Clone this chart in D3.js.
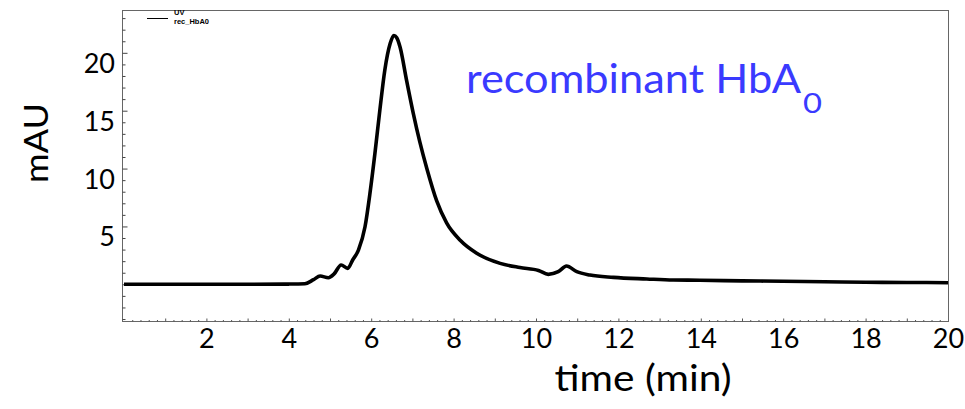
<!DOCTYPE html>
<html><head><meta charset="utf-8">
<script src="https://cdn.jsdelivr.net/npm/d3@7/dist/d3.min.js"></script>
<style>html,body{margin:0;padding:0;background:#fff;}svg{display:block;}</style>
</head><body><svg id="c" width="965" height="409"></svg>
<script>
// time (min)
const times = [0, 1, 2, 3, 4, 4.39, 4.6, 4.76, 4.96, 5.1, 5.27, 5.43, 5.55, 5.69, 5.85, 5.97, 6.09, 6.21, 6.33, 6.46, 6.55, 6.62, 6.70, 6.86, 7.02, 7.18, 7.35, 7.59, 7.83, 8.16, 8.56, 9.13, 9.61, 10.06, 10.30, 10.54, 10.74, 10.99, 11.31, 11.88, 12.69, 13.33, 13.98, 15, 16, 17, 18, 19, 20];
// absorbance (mAU)
const mau = [0, 0, 0, 0, 0.02, 0.05, 0.4, 0.72, 0.57, 0.9, 1.67, 1.38, 2.1, 2.96, 4.97, 7.86, 11.3, 15.05, 18.5, 20.8, 21.5, 21.3, 20.5, 17.6, 14.8, 12.3, 10.0, 7.2, 5.3, 3.8, 2.68, 1.81, 1.45, 1.2, 0.86, 1.09, 1.58, 1.09, 0.8, 0.6, 0.46, 0.37, 0.35, 0.3, 0.26, 0.22, 0.18, 0.16, 0.14];
const xTickLabels = [2, 4, 6, 8, 10, 12, 14, 16, 18, 20];
const yTickLabels = [5, 10, 15, 20];
const legendLabels = ["UV", "rec_HbA0"];

const FONT = "Lato, 'Open Sans', sans-serif";

const svg = d3.select("#c");
const L = 122, R = 948, T = 10, B = 321;
const x = d3.scaleLinear().domain([0, 20]).range([124, 948]);
const y = d3.scaleLinear().domain([-3.17, 23.7]).range([B, T]);

// frame
svg.append("rect").attr("x", L + 0.5).attr("y", T + 0.5).attr("width", R - L).attr("height", B - T)
  .attr("fill", "none").attr("stroke", "#666").attr("stroke-width", 1);

// minor ticks, left
const yMinor = d3.range(-3, 24, 1);
svg.append("g").attr("transform", `translate(${L + 0.5},0)`)
  .call(d3.axisRight(y).tickValues(yMinor).tickSize(2).tickFormat(""))
  .call(g => g.select(".domain").remove())
  .call(g => g.selectAll("line").attr("stroke", "#444").attr("x2", d => d % 5 === 0 ? 5 : 3));
// minor ticks, bottom
const xMinor = d3.range(1, 100).map(i => i * 0.2);
svg.append("g").attr("transform", `translate(0,${B + 0.5})`)
  .call(d3.axisTop(x).tickValues(xMinor).tickSize(2).tickFormat(""))
  .call(g => g.select(".domain").remove())
  .call(g => g.selectAll("line").attr("stroke", "#555").attr("y2", (d, i) => ((i + 1) % 5 === 0) ? -3 : -1.5));

// Y labels
svg.append("g").attr("transform", `translate(${L},0)`)
  .call(d3.axisLeft(y).tickValues(yTickLabels).tickSize(0).tickPadding(7))
  .call(g => g.select(".domain").remove())
  .call(g => g.selectAll("text").attr("font-family", FONT).attr("font-size", 27)
    .attr("fill", "#000").attr("dy", "0.35em").attr("transform", "translate(0,10)"));
// X labels
svg.append("g").attr("transform", `translate(0,${B})`)
  .call(d3.axisBottom(x).tickValues(xTickLabels).tickSize(0).tickPadding(8))
  .call(g => g.select(".domain").remove())
  .call(g => g.selectAll("text").attr("font-family", FONT).attr("font-size", 27).attr("fill", "#000"));

// axis titles
svg.append("text").attr("x", 643).attr("y", 391).attr("text-anchor", "middle")
  .attr("font-family", FONT).attr("font-size", 36).text("time (min)")
  .attr("textLength", 177).attr("lengthAdjust", "spacingAndGlyphs");
svg.append("text").attr("transform", "translate(48,143) rotate(-90)").attr("text-anchor", "middle")
  .attr("font-family", FONT).attr("font-size", 33).text("mAU")
  .attr("textLength", 80).attr("lengthAdjust", "spacingAndGlyphs");

// trace
const line = d3.line().x((d, i) => x(times[i])).y(d => y(d)).curve(d3.curveMonotoneX);
svg.append("path").datum(mau).attr("d", line).attr("fill", "none").attr("stroke", "#000")
  .attr("stroke-width", 3.6).attr("stroke-linejoin", "round");

// legend
svg.append("line").attr("x1", 147).attr("x2", 168).attr("y1", 18.5).attr("y2", 18.5).attr("stroke", "#000").attr("stroke-width", 1);
svg.selectAll("text.leg").data(legendLabels).enter().append("text").attr("class", "leg")
  .attr("x", 174).attr("y", (d, i) => 15 + i * 8.5)
  .attr("font-family", "Liberation Sans, Arial, sans-serif").attr("font-weight", "bold").attr("font-size", 7.5).text(d => d);

// annotation
const ann = svg.append("text").attr("x", 466).attr("y", 93).attr("fill", "rgb(58,58,255)")
  .attr("font-family", FONT).attr("font-size", 40);
ann.append("tspan").text("recombinant HbA").attr("textLength", 335).attr("lengthAdjust", "spacingAndGlyphs");
ann.append("tspan").attr("font-size", 26).attr("dy", 20).attr("dx", 2).text("0")
  .attr("textLength", 19).attr("lengthAdjust", "spacingAndGlyphs");
</script></body></html>
